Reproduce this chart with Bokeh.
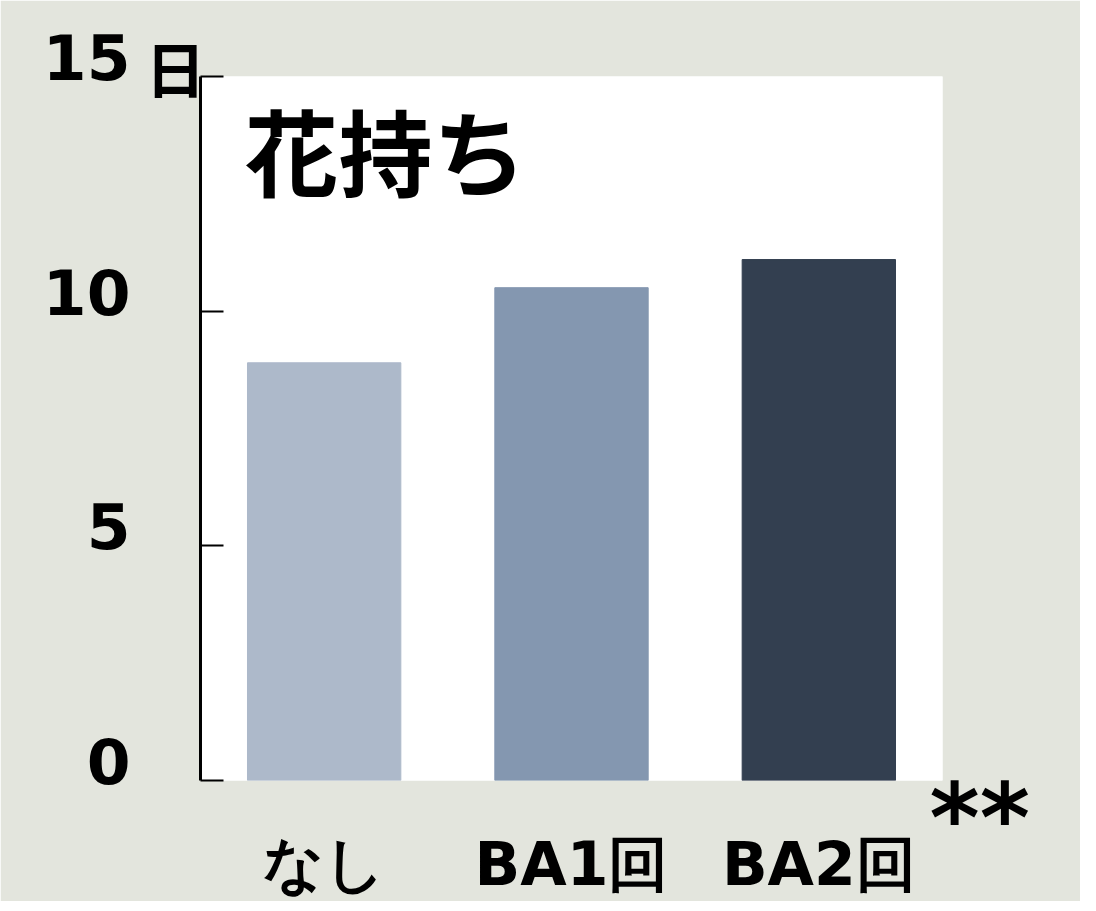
from bokeh.plotting import figure
from bokeh.models import (Range1d, FixedTicker, Label, FactorRange,
                          ColumnDataSource, LinearAxis, CustomLabelingPolicy)
from bokeh.embed import file_html
from bokeh.resources import INLINE

# ---- data ----
categories = ["なし", "BA1回", "BA2回"]
values = [8.9, 10.5, 11.1]
colors = ["#adb9ca", "#8497b0", "#333f50"]
y_ticks = [0, 5, 10, 15]
unit_text = "日"
title_text = "花持ち"
signif_text = "**"

BG = "#e3e5dd"
FW, FH = 742, 704

src = ColumnDataSource(dict(cat=categories, val=values, color=colors))

p = figure(
    x_range=FactorRange(factors=categories, range_padding=0),
    y_range=Range1d(0, 15),
    frame_width=FW, frame_height=FH,
    min_border_left=200, min_border_right=138,
    min_border_top=76, min_border_bottom=115,
    output_backend="svg", toolbar_location=None,
    background_fill_color="white", border_fill_color=BG,
    outline_line_color=None,
)

p.vbar(x="cat", top="val", width=0.62, color="color", source=src)

p.grid.visible = False

# inner y axis: line, inward ticks and the unit label (no tick numbers)
ya = p.yaxis[0]
ya.ticker = FixedTicker(ticks=y_ticks)
ya.minor_tick_line_color = None
ya.axis_line_color = "black"
ya.axis_line_width = 3
ya.major_tick_line_color = "black"
ya.major_tick_line_width = 2
ya.major_tick_in = 23
ya.major_tick_out = 0
ya.major_label_standoff = 0
ya.major_label_text_font_size = "0px"
ya.major_label_policy = CustomLabelingPolicy(code="return []")
ya.axis_label = unit_text + "\n"
ya.axis_label_orientation = "horizontal"
ya.axis_label_align = "end"
ya.axis_label_standoff = -5
ya.axis_label_text_font = "Noto Sans CJK JP"
ya.axis_label_text_font_style = "bold"
ya.axis_label_text_font_size = "60px"
ya.axis_label_text_line_height = 0.22
ya.axis_label_text_color = "black"

# outer y axis: the tick numbers (sitting a little above their ticks)
yl = LinearAxis(ticker=FixedTicker(ticks=y_ticks))
yl.axis_line_color = None
yl.major_tick_line_color = None
yl.minor_tick_line_color = None
yl.major_label_overrides = {t: f"{t}\n" for t in y_ticks}
yl.major_label_standoff = 6
yl.major_label_text_font = "DejaVu Sans"
yl.major_label_text_font_style = "bold"
yl.major_label_text_font_size = "63px"
yl.major_label_text_line_height = 0.49
yl.major_label_text_color = "black"
p.add_layout(yl, "left")

# x axis
xa = p.xaxis[0]
xa.axis_line_color = None
xa.major_tick_line_color = None
xa.minor_tick_line_color = None
xa.major_label_standoff = 42
xa.major_label_text_font = "DejaVu Sans"
xa.major_label_text_font_style = "bold"
xa.major_label_text_font_size = "60px"
xa.major_label_text_color = "black"

# right axis carrying only the significance mark (below the frame corner)
ra = LinearAxis(ticker=FixedTicker(ticks=[]))
ra.axis_line_color = None
ra.major_tick_line_color = None
ra.minor_tick_line_color = None
ra.major_label_text_font_size = "0px"
ra.major_label_standoff = 0
ra.axis_label = "\n" + signif_text
ra.axis_label_orientation = "horizontal"
ra.axis_label_align = "start"
ra.axis_label_standoff = -13
ra.axis_label_text_font = "DejaVu Sans"
ra.axis_label_text_font_style = "bold"
ra.axis_label_text_font_size = "96px"
ra.axis_label_text_line_height = 0.68
ra.axis_label_text_color = "black"
p.add_layout(ra, "right")

# title inside plot area
p.add_layout(Label(x=0, y=13.45, x_offset=44, text=title_text,
                   text_font="Noto Sans CJK JP", text_font_style="bold",
                   text_font_size="94px", text_align="left",
                   text_baseline="middle", text_color="black"))

open("out.html", "w").write(file_html(p, INLINE))
